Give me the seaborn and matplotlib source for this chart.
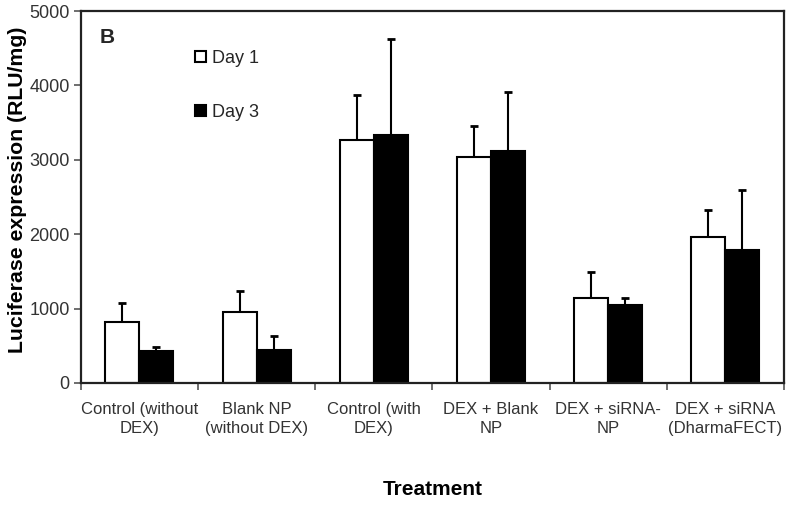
import pandas as pd
import numpy as np
import matplotlib.pyplot as plt
import seaborn as sns
from matplotlib.patches import Patch

treatments = ['Control (without\nDEX)', 'Blank NP\n(without DEX)', 'Control (with\nDEX)',
              'DEX + Blank\nNP', 'DEX + siRNA-\nNP', 'DEX + siRNA\n(DharmaFECT)']
day1 = [824, 958, 3262, 3042, 1147, 1958]
day3 = [430, 448, 3329, 3118, 1044, 1788]
day1_err = [255, 279, 613, 408, 345, 371]
day3_err = [54, 180, 1291, 789, 94, 806]
days = ['Day 1', 'Day 3']

df = pd.DataFrame({
    'treatment': treatments * 2,
    'value': day1 + day3,
    'day': [days[0]] * len(treatments) + [days[1]] * len(treatments),
})
errs = {days[0]: day1_err, days[1]: day3_err}

sns.set_theme(style='white')
plt.rcParams.update({'font.family': ['Liberation Sans', 'DejaVu Sans']})
TXT = '#333333'

fig = plt.figure(figsize=(8, 5.05), dpi=100)
ax = fig.add_axes([0.101, 0.2416, 0.879, 0.7364])

sns.barplot(data=df, x='treatment', y='value', hue='day', palette=['white', 'black'],
            edgecolor='black', linewidth=1.5, width=0.58, gap=0, errorbar=None,
            legend=False, ax=ax)

# upper-only error bars, no cap at the bar top
for cont, d in zip(ax.containers, days):
    xs = [b.get_x() + b.get_width() / 2 for b in cont]
    hs = [b.get_height() for b in cont]
    e = errs[d]
    eb = ax.errorbar(xs, hs, yerr=[np.zeros(len(e)), e], fmt='none', ecolor='black',
                     elinewidth=1.5, capsize=3, capthick=2, zorder=1)
    eb[1][0].set_visible(False)

ax.set_ylim(0, 5000)
ax.set_xlim(-0.5, len(treatments) - 0.5)
ax.set_yticks([0, 1000, 2000, 3000, 4000, 5000])
ax.set_xticks(np.arange(len(treatments)))
ax.set_xticklabels(treatments, fontsize=12, color=TXT, linespacing=1.3)
ax.tick_params(axis='x', which='major', length=0, pad=14)
ax.set_xticks(np.arange(len(treatments) + 1) - 0.5, minor=True)
ax.tick_params(axis='x', which='minor', direction='out', length=5, width=1.2, color='#555555', bottom=True)
ax.tick_params(axis='y', direction='out', length=5, width=1.2, color='#555555', left=True,
               labelsize=13, labelcolor=TXT, pad=3)

for s in ax.spines.values():
    s.set_color('#222222')
    s.set_linewidth(1.6)

ax.set_ylabel('Luciferase expression (RLU/mg)', fontsize=15.3, fontweight='bold', color='black')
ax.yaxis.set_label_coords(-0.077, 0.52)
ax.set_xlabel('Treatment', fontsize=15, fontweight='bold', color='black', labelpad=32)

ax.text(0.027, 0.93, 'B', transform=ax.transAxes, fontsize=15, fontweight='bold', va='center')

handles = [Patch(facecolor='white', edgecolor='black', linewidth=1.5),
           Patch(facecolor='black', edgecolor='black', linewidth=1.5)]
ax.legend(handles, days, loc='upper left', bbox_to_anchor=(0.14, 0.94), frameon=False,
          fontsize=13, handlelength=0.6, handleheight=0.6, handletextpad=0.3,
          labelspacing=2.05)

plt.savefig('out.png')
plt.close()
